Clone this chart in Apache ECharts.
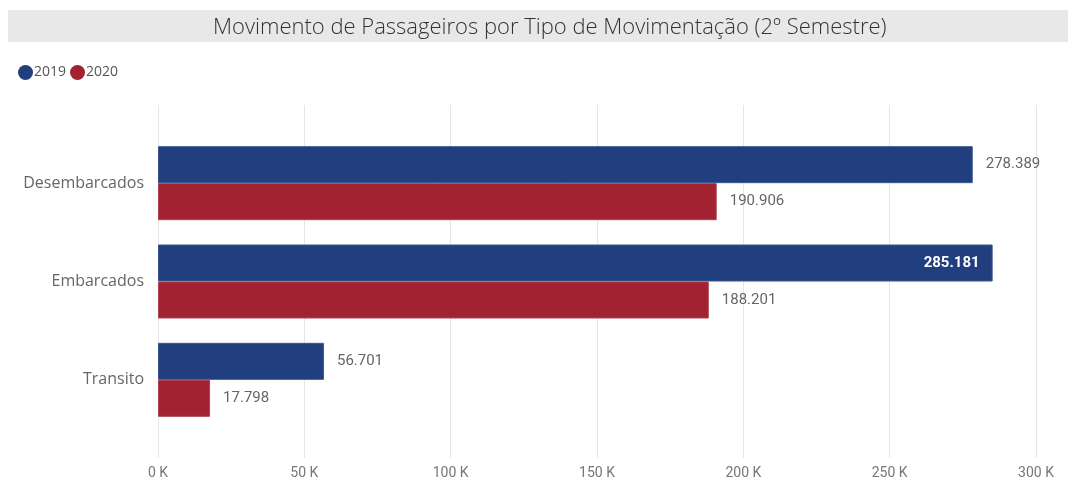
<!DOCTYPE html>
<html>
<head>
<meta charset="utf-8">
<script src="https://cdn.jsdelivr.net/npm/echarts@6/dist/echarts.min.js"></script>
<style>
  html, body { margin: 0; padding: 0; background: #fff; }
  #chart { width: 1075px; height: 484px; }
</style>
</head>
<body>
<div id="chart"></div>
<script>
  // dados
  const categorias = ['Desembarcados', 'Embarcados', 'Transito']
  const valores2019 = [278389, 285181, 56701]
  const valores2020 = [190906, 188201, 17798]
  const ticksX = [0, 50000, 100000, 150000, 200000, 250000, 300000]

  const azul = '#213F7E'
  const vermelho = '#A22231'

  function fmt(v) {
    return String(v).replace(/\B(?=(\d{3})+(?!\d))/g, '.')
  }

  // o maior valor fica com o rotulo dentro da barra
  const maior = Math.max.apply(null, valores2019)
  const dados2019 = valores2019.map(function(v) {
    if (v === maior) {
      return { value: v, label: { position: 'insideRight', color: '#fff', fontWeight: 'bold' } }
    }
    return v
  })

  const chart = echarts.init(document.getElementById('chart'))
  chart.setOption({
    animation: false,
    graphic: [{
      type: 'rect',
      shape: { x: 8, y: 10, width: 1060, height: 32 },
      style: { fill: '#E8E8E8' },
      z: -1
    }],
    title: {
      text: 'Movimento de Passageiros por Tipo de Movimentação (2º Semestre)',
      left: 208,
      top: 12,
      textStyle: { fontFamily: 'Open Sans', fontWeight: 300, fontSize: 22, color: '#333' }
    },
    legend: {
      left: 13,
      top: 60,
      icon: 'circle',
      itemWidth: 15,
      itemHeight: 15,
      itemGap: 4,
      itemStyle: { borderWidth: 0 },
      textStyle: { fontFamily: 'Open Sans', fontSize: 14, color: '#555', padding: [0, 0, 0, -4] },
      data: ['2019', '2020']
    },
    grid: [
      { left: 158, right: 39, top: 134, bottom: 55 },
      { left: 158, right: 39, top: 105, bottom: 26 }
    ],
    xAxis: [
      {
        gridIndex: 0, type: 'value', min: ticksX[0], max: ticksX[ticksX.length - 1], interval: 50000,
        axisLine: { show: false }, axisTick: { show: false }, axisLabel: { show: false }, splitLine: { show: false }
      },
      {
        gridIndex: 1, type: 'value', min: ticksX[0], max: ticksX[ticksX.length - 1], interval: 50000,
        axisLine: { show: false }, axisTick: { show: false },
        axisLabel: {
          fontFamily: 'Roboto', fontSize: 14, color: '#777', margin: 8,
          formatter: function(v) { return (v / 1000) + ' K' }
        },
        splitLine: { lineStyle: { color: '#E6E6E6', width: 1 } }
      }
    ],
    yAxis: [
      {
        gridIndex: 0, type: 'category', data: categorias, inverse: true,
        axisLine: { show: false }, axisTick: { show: false },
        axisLabel: { fontFamily: 'Open Sans', fontSize: 16, color: '#666', margin: 14 }
      },
      {
        gridIndex: 1, type: 'category', data: categorias, show: false
      }
    ],
    series: [
      {
        name: '2019', type: 'bar', xAxisIndex: 0, yAxisIndex: 0,
        data: dados2019, barWidth: 37, barGap: '0%',
        itemStyle: { color: azul, borderColor: '#3A5590', borderWidth: 1 },
        label: {
          show: true, position: 'right', distance: 13,
          fontFamily: 'Roboto', fontSize: 15, color: '#666',
          formatter: function(p) { return fmt(p.value) }
        }
      },
      {
        name: '2020', type: 'bar', xAxisIndex: 0, yAxisIndex: 0,
        data: valores2020, barWidth: 37, barGap: '0%',
        itemStyle: { color: vermelho, borderColor: '#B0434F', borderWidth: 1 },
        label: {
          show: true, position: 'right', distance: 13,
          fontFamily: 'Roboto', fontSize: 15, color: '#666',
          formatter: function(p) { return fmt(p.value) }
        }
      }
    ]
  })
</script>
</body>
</html>
